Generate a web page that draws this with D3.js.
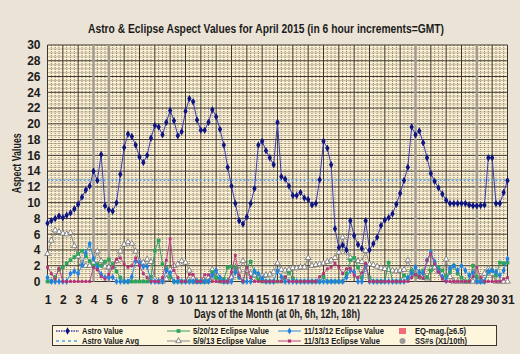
<!DOCTYPE html>
<html>
<head>
<meta charset="utf-8">
<script src="https://cdn.jsdelivr.net/npm/d3@7"></script>
<style>
  body { margin: 0; background: #ebe4d6; }
  text {
    font-family: "Liberation Sans Narrow", "Arial Narrow", "Liberation Sans", Arial, sans-serif;
    font-weight: bold;
    fill: #1c1c1c;
  }
</style>
</head>
<body>
<div id="chart"></div>
<script>
// Values every 6 hours (day, day+6h, day+12h, day+18h), April 1 0h .. April 31 0h
var astroValues = [
  7.4, 7.7, 8.0, 8.3,   8.1, 8.4, 8.7, 9.2,   9.8, 10.7, 11.6, 12.1,   14.0, 12.8, 16.1, 9.6,
  9.1, 8.9, 10.0, 13.6,   17.0, 18.7, 18.4, 17.3,   15.8, 15.1, 16.0, 18.2,   19.8, 19.6, 18.6, 20.2,
  21.7, 20.4, 18.5, 19.0,   21.6, 23.2, 22.8, 20.5,   19.2, 19.2, 20.2, 21.8,   20.9, 19.3, 17.3, 14.5,
  12.1, 9.9, 7.7, 7.3,   8.2, 9.9, 11.8, 17.3,   17.8, 16.6, 15.7, 14.8,   20.2, 13.3, 13.0, 12.1,
  10.9, 10.9, 11.3, 10.6,   10.4, 9.7, 9.9, 12.9,   17.8, 16.9, 14.8, 6.7,   4.3, 4.6, 4.0, 7.7,
  5.8, 4.7, 4.2, 7.7,   4.0, 4.8, 5.6, 7.1,   7.8, 8.1, 8.6, 9.8,   11.2, 12.8, 14.5, 19.6,
  18.6, 19.1, 17.6, 15.7,   13.7, 12.7, 11.9, 11.1,   10.3, 9.9, 9.9, 9.9,   9.9, 9.9, 9.7, 9.6,
  9.6, 9.65, 9.7, 15.7,   15.7, 9.9, 9.9, 11.3,   12.8
];
var astroAvg = 12.85;

var eclipse52012 = [
  0, 0, 0.6, 1.5,   1.8, 2.3, 2.7, 3.1,   3.5, 3.9, 3.2, 2.6,   2.0, 2.2, 2.0, 2.5,
  2.8, 2.2, 1.3, 0.5,   0, 0, 0, 0,   0, 0, 0, 0.6,   3.9, 5.2, 2.2, 1.7,
  0.6, 0, 0, 0,   0, 0, 0, 0,   0, 0, 0, 1.2,   0.5, 0, 0.3, 1.8,
  1.9, 1.8, 0.5, 0,   1.8, 2.5, 1.2, 0.3,   0, 0, 0, 0,   0, 0, 0.5, 1.1,
  0.4, 0, 0, 0,   0, 0, 0, 0,   0.6, 0, 0, 0,   0, 0, 1.0, 2.7,
  3.0, 1.8, 0.5, 2.0,   0.5, 0, 0, 0,   0, 2.4, 0, 0,   0, 0.8, 0.4, 1.4,
  0.9, 0.6, 1.4, 0.5,   1.4, 2.2, 1.8, 1.4,   0.6, 1.2, 2.0, 1.0,   0.5, 0, 0, 2.0,
  0.6, 0, 0, 1.2,   1.4, 0.8, 2.4, 2.3,   2.4
];
var eclipse91313 = [
  3.5, 5.2, 6.5, 6.3,   6.1, 6.0, 6.2, 4.5,   3.2, 2.3, 2.0, 2.0,   2.4, 3.8, 2.6, 1.9,
  1.8, 1.9, 2.6, 3.8,   4.7, 5.0, 4.8, 3.8,   2.6, 2.4, 2.8, 2.5,   0.3, 0, 0, 0.3,
  1.5, 2.0, 2.2, 2.6,   2.4, 1.4, 0.4, 0,   0, 0, 0.5, 1.5,   0.5, 0.1, 0, 0,
  0.5, 1.8, 1.4, 2.6,   1.4, 1.0, 0.8, 0.5,   0.7, 0.8, 0.9, 1.2,   2.3, 1.5, 1.4, 1.5,
  1.7, 1.7, 1.8, 1.8,   3.0, 2.0, 2.1, 2.2,   2.3, 2.5, 2.7, 3.0,   3.7, 5.6, 3.7, 3.0,
  2.8, 2.6, 2.5, 3.9,   2.2, 2.1, 1.9, 1.7,   1.6, 1.5, 1.4, 1.3,   1.4, 1.5, 2.7, 1.4,
  0.9, 0.6, 0.5, 0.4,   1.6, 1.8, 1.3, 1.0,   2.8, 0.6, 0, 0,   0, 0, 0, 0,
  0, 0, 1.0, 1.6,   1.0, 0, 0, 0,   0
];
var eclipse111312 = [
  0.5, 0, 0, 0,   0, 0, 1.0, 1.3,   1.0, 2.1, 3.6, 4.8,   2.9, 1.8, 0.9, 0.5,
  0.5, 0.55, 0, 0,   0, 0, 0.6, 2.6,   2.4, 1.9, 1.9, 0,   0, 0, 0, 1.4,
  1.1, 0, 0, 0,   0, 0, 0, 0,   0, 0, 0, 0.8,   1.4, 0.5, 0, 0,
  0, 1.2, 0.6, 0,   0, 0, 1.3, 1.0,   0.4, 0, 0, 0,   1.4, 0.6, 0, 0,
  0, 0, 0, 0,   0, 0, 0, 0,   0, 0, 0, 0,   0, 0, 0.5, 1.4,
  1.2, 0, 0, 2.0,   0, 0, 0, 0,   0, 0, 0, 0,   0, 0, 0.5, 1.0,
  1.8, 1.2, 1.0, 2.7,   3.7, 2.5, 1.4, 0.6,   0.1, 1.7, 2.0, 1.4,   2.0, 1.4, 0.8, 1.1,
  0, 0, 0, 1.3,   1.4, 1.2, 0.8, 1.4,   2.9
];
var eclipse11313 = [
  1.8, 1.0, 0.3, 1.7,   0, 0, 0, 0,   0, 0, 0, 0,   1.8, 1.5, 0.6, 0.3,
  0.9, 1.8, 2.8, 3.0,   2.2, 1.8, 2.0, 3.0,   2.0, 1.0, 0.5, 0,   0, 0, 0.5, 2.7,
  5.4, 1.4, 0.5, 0,   0, 0.9, 0.9, 0,   0, 0.85, 0.85, 0,   0, 0, 0, 0,
  1.2, 3.3, 0.8, 0,   1.8, 0.5, 0, 0,   0, 0, 0, 0,   0, 0, 0.6, 0,
  0, 0, 0, 0,   0, 0, 0, 0.6,   1.0, 1.6, 1.8, 2.3,   1.8, 1.0, 1.6, 1.7,
  0.8, 0.5, 1.1, 2.3,   0, 0, 0, 0,   0, 0, 0, 0,   0, 0, 0, 0.5,
  0.9, 0.6, 0.4, 2.7,   3.5, 2.2, 1.2, 0.3,   0, 0, 0, 0,   0, 0, 0, 0.6,
  1.8, 0.5, 0, 0,   0, 0, 0, 0.3,   0.5
];

// Days drawn with a heavier grey rule
var markedDays = [4, 5, 25, 29];

var dayTicks = d3.range(1, 32);
var valueTicks = d3.range(0, 31, 2);

// Define SVG area dimensions
var svgWidth = 520;
var svgHeight = 354;

var margin = { top: 45, right: 12.5, bottom: 72.5, left: 47.5 };

var chartWidth = svgWidth - margin.left - margin.right;
var chartHeight = svgHeight - margin.top - margin.bottom;

var svg = d3.select("#chart")
  .append("svg")
  .attr("width", svgWidth)
  .attr("height", svgHeight);

// outer background
svg.append("rect")
  .attr("width", svgWidth)
  .attr("height", svgHeight)
  .attr("fill", "#ebe4d6");

var chartGroup = svg.append("g")
  .attr("transform", `translate(${margin.left}, ${margin.top})`);

var xScale = d3.scaleLinear().domain([1, 31]).range([0, chartWidth]);
var yScale = d3.scaleLinear().domain([0, 30]).range([chartHeight, 0]);

// turn a value list into points (6 hour steps)
function toPoints(values) {
  return values.map((v, i) => ({ day: 1 + i / 4, value: v }));
}

// squeeze text to the width it has in the original (narrow font)
function fitText(sel, width) {
  sel.attr("textLength", width).attr("lengthAdjust", "spacingAndGlyphs");
}

// plot background
chartGroup.append("rect")
  .attr("width", chartWidth)
  .attr("height", chartHeight)
  .attr("fill", "#fcf0d2");

// minor grid (dotted)
var minorY = d3.range(0, 30.01, 0.5).filter(v => v % 2 !== 0);
chartGroup.append("g").selectAll("line")
  .data(minorY)
  .join("line")
  .attr("x1", 0).attr("x2", chartWidth)
  .attr("y1", d => yScale(d)).attr("y2", d => yScale(d))
  .attr("stroke", "#8c8272")
  .attr("stroke-width", 1)
  .attr("stroke-dasharray", "1,1");

var minorX = d3.range(1, 31, 0.25).filter(d => d % 1 !== 0);
chartGroup.append("g").selectAll("line")
  .data(minorX)
  .join("line")
  .attr("x1", d => xScale(d)).attr("x2", d => xScale(d))
  .attr("y1", 0).attr("y2", chartHeight)
  .attr("stroke", "#8c8272")
  .attr("stroke-width", 1)
  .attr("stroke-dasharray", "1,1");

// major grid
chartGroup.append("g").selectAll("line")
  .data(valueTicks)
  .join("line")
  .attr("x1", 0).attr("x2", chartWidth)
  .attr("y1", d => yScale(d)).attr("y2", d => yScale(d))
  .attr("stroke", "#3a3530")
  .attr("stroke-width", 1);

chartGroup.append("g").selectAll("line")
  .data(dayTicks)
  .join("line")
  .attr("x1", d => xScale(d)).attr("x2", d => xScale(d))
  .attr("y1", 0).attr("y2", chartHeight)
  .attr("stroke", d => markedDays.includes(d) ? "#a09a92" : "#3a3530")
  .attr("stroke-width", d => markedDays.includes(d) ? 2.5 : 1);

// average line
chartGroup.append("line")
  .attr("x1", 0).attr("x2", chartWidth)
  .attr("y1", yScale(astroAvg)).attr("y2", yScale(astroAvg))
  .attr("stroke", "#4aa3f0")
  .attr("stroke-width", 1.5)
  .attr("stroke-dasharray", "2,2");

var drawLine = d3.line()
  .x(d => xScale(d.day))
  .y(d => yScale(d.value));

// series settings
var series = [
  { name: "5/9/13 Eclipse Value", values: eclipse91313, line: "#8a8a8a", fill: "#ffffff", stroke: "#6a6a6a", symbol: d3.symbolTriangle, size: 14 },
  { name: "5/20/12 Eclipse Value", values: eclipse52012, line: "#33a060", fill: "#2ea45a", stroke: "none", symbol: d3.symbolSquare, size: 14 },
  { name: "11/13/12 Eclipse Value", values: eclipse111312, line: "#2c8ee6", fill: "#1f80e0", stroke: "none", symbol: d3.symbolDiamond, size: 14 },
  { name: "11/3/13 Eclipse Value", values: eclipse11313, line: "#c04488", fill: "#b03378", stroke: "none", symbol: d3.symbolSquare, size: 8 },
  { name: "Astro Value", values: astroValues, line: "#3b3fb0", fill: "#0d1480", stroke: "none", symbol: d3.symbolDiamond, size: 16 }
];

series.forEach(function(s) {
  var pts = toPoints(s.values);
  chartGroup.append("path")
    .attr("d", drawLine(pts))
    .attr("fill", "none")
    .attr("stroke", s.line)
    .attr("stroke-width", 1);

  chartGroup.append("g").selectAll("path")
    .data(pts)
    .join("path")
    .attr("transform", d => `translate(${xScale(d.day)}, ${yScale(d.value)})`)
    .attr("d", d3.symbol().type(s.symbol).size(s.size))
    .attr("fill", s.fill)
    .attr("stroke", s.stroke)
    .attr("stroke-width", 0.8);
});

// axes
var leftAxis = d3.axisLeft(yScale).tickValues(valueTicks).tickSize(0).tickPadding(7);
var bottomAxis = d3.axisBottom(xScale).tickValues(dayTicks).tickSize(0).tickPadding(14).tickFormat(d3.format("d"));

var yAxisG = chartGroup.append("g").call(leftAxis);
var xAxisG = chartGroup.append("g")
  .attr("transform", `translate(0, ${chartHeight})`)
  .call(bottomAxis);

[yAxisG, xAxisG].forEach(function(g) {
  g.select(".domain").remove();
  g.selectAll("text")
    .attr("font-size", 12)
    .attr("font-family", null)
    .attr("fill", "#1c1c1c");
});

// titles
svg.append("text")
  .attr("x", 266)
  .attr("y", 33)
  .attr("text-anchor", "middle")
  .attr("font-size", 12)
  .text("Astro & Eclipse Aspect Values for April 2015 (in 6 hour increments=GMT)")
  .call(fitText, 356);

svg.append("text")
  .attr("x", 277)
  .attr("y", 318)
  .attr("text-anchor", "middle")
  .attr("font-size", 12)
  .text("Days of the Month (at 0h, 6h, 12h, 18h)")
  .call(fitText, 166);

svg.append("text")
  .attr("transform", `translate(21, ${margin.top + chartHeight / 2}) rotate(-90)`)
  .attr("text-anchor", "middle")
  .attr("font-size", 12)
  .text("Aspect Values")
  .call(fitText, 60);

// legend
var row1 = 331;
var row2 = 341;

var legend = svg.append("g");
legend.append("rect")
  .attr("x", 52.5).attr("y", 325.5)
  .attr("width", 444).attr("height", 20)
  .attr("fill", "#fdf5dc")
  .attr("stroke", "#3a3530")
  .attr("stroke-width", 1);

var legendItems = [
  { label: "Astro Value", w: 41, x: 56, y: row1, line: "#3b3fb0", dash: "1.5,1", fill: "#0d1480", stroke: "none", symbol: d3.symbolDiamond, size: 16 },
  { label: "Astro Value Avg", w: 57, x: 56, y: row2, line: "#4aa3f0", dash: "3,3", symbol: null },
  { label: "5/20/12 Eclipse Value", w: 76, x: 167, y: row1, line: "#33a060", fill: "#2ea45a", stroke: "none", symbol: d3.symbolSquare, size: 14 },
  { label: "5/9/13 Eclipse Value", w: 73, x: 167, y: row2, line: "#8a8a8a", fill: "#ffffff", stroke: "#6a6a6a", symbol: d3.symbolTriangle, size: 14 },
  { label: "11/13/12 Eclipse Value", w: 80, x: 278, y: row1, line: "#2c8ee6", fill: "#1f80e0", stroke: "none", symbol: d3.symbolDiamond, size: 14 },
  { label: "11/3/13 Eclipse Value", w: 76, x: 278, y: row2, line: "#c04488", fill: "#b03378", stroke: "none", symbol: d3.symbolSquare, size: 10 }
];

legendItems.forEach(function(item) {
  legend.append("line")
    .attr("x1", item.x).attr("x2", item.x + 23)
    .attr("y1", item.y).attr("y2", item.y)
    .attr("stroke", item.line)
    .attr("stroke-width", item.dash ? 1.5 : 1)
    .attr("stroke-dasharray", item.dash || null);
  if (item.symbol) {
    legend.append("path")
      .attr("transform", `translate(${item.x + 11.5}, ${item.y})`)
      .attr("d", d3.symbol().type(item.symbol).size(item.size))
      .attr("fill", item.fill)
      .attr("stroke", item.stroke)
      .attr("stroke-width", 0.8);
  }
  legend.append("text")
    .attr("x", item.x + 26)
    .attr("y", item.y + 3)
    .attr("font-size", 8.5)
    .text(item.label)
    .call(fitText, item.w);
});

// marker-only entries
legend.append("rect")
  .attr("x", 399).attr("y", row1 - 3)
  .attr("width", 7).attr("height", 6)
  .attr("fill", "#f06a7a");
legend.append("path")
  .attr("transform", `translate(402.5, ${row1})`)
  .attr("d", d3.symbol().type(d3.symbolTimes).size(10))
  .attr("fill", "#5a1020");
legend.append("text")
  .attr("x", 415).attr("y", row1 + 3)
  .attr("font-size", 8.5)
  .text("EQ-mag.(\u22656.5)")
  .call(fitText, 51);

legend.append("circle")
  .attr("cx", 402.5).attr("cy", row2)
  .attr("r", 3)
  .attr("fill", "#9a9a9a");
legend.append("text")
  .attr("x", 415).attr("y", row2 + 3)
  .attr("font-size", 8.5)
  .text("SS#s (X1/10th)")
  .call(fitText, 52);
</script>
</body>
</html>
